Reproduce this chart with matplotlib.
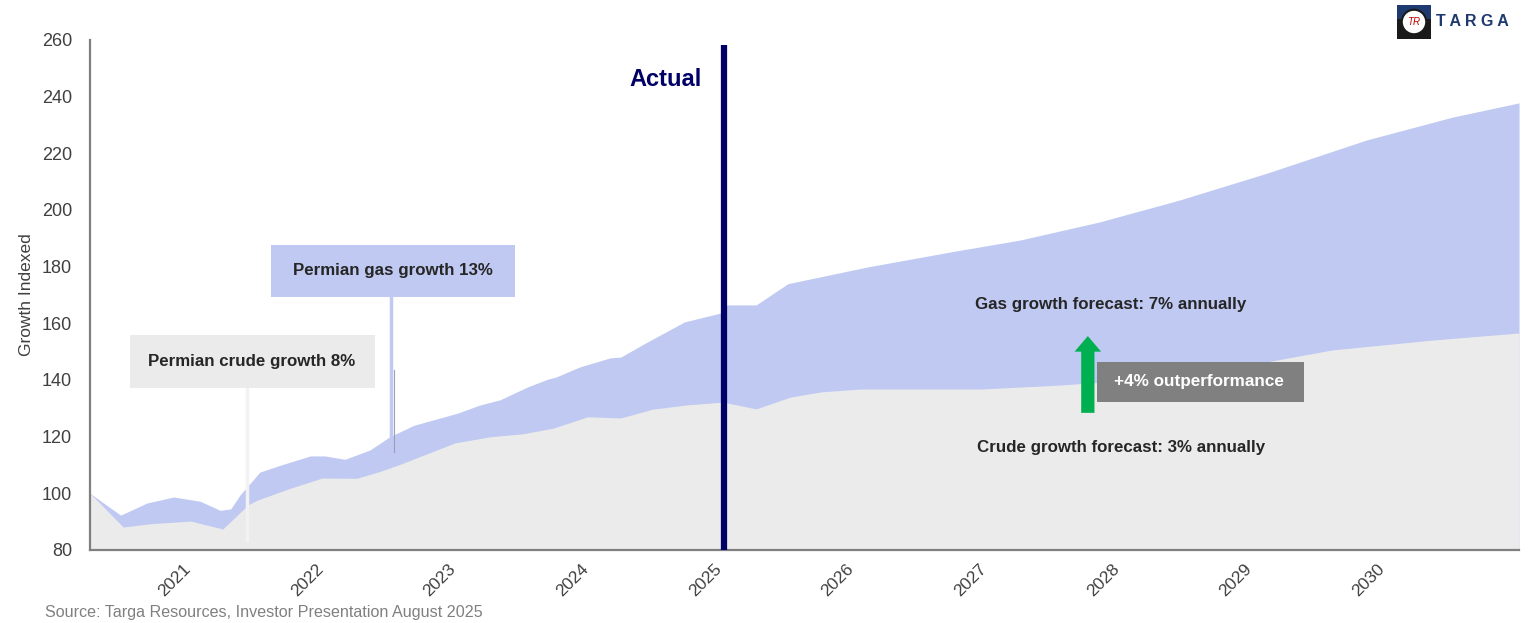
import matplotlib
matplotlib.use("Agg")
import matplotlib.pyplot as plt
from matplotlib.patches import Rectangle, FancyArrow, Circle

plt.rcParams['font.family'] = ['Liberation Sans', 'DejaVu Sans']

# ---- data (year fraction, growth index) ----
gas_years = [2020.22, 2020.45, 2020.53, 2020.65, 2020.85, 2021.05, 2021.20, 2021.28, 2021.35,
             2021.50, 2021.66, 2021.88, 2021.99, 2022.14, 2022.33, 2022.48, 2022.66, 2022.99,
             2023.16, 2023.31, 2023.52, 2023.67, 2023.73, 2023.91, 2024.14, 2024.22, 2024.42,
             2024.70, 2024.97, 2025.02, 2025.24, 2025.48, 2026.08, 2026.73, 2027.23, 2027.83,
             2028.43, 2029.09, 2029.84, 2030.49, 2030.99]
gas_values = [100, 92.3, 94, 96.6, 98.7, 97.2, 94, 94.5, 99.4,
              107.5, 110, 113.2, 113.2, 112, 115.3, 120, 124, 128.3,
              131.2, 133, 137.6, 140.3, 141, 144.6, 147.8, 148.1, 153.4,
              160.5, 163.6, 166.5, 166.5, 174, 179.9, 185.4, 189.4, 195.8,
              203.5, 213, 224.7, 232.8, 237.8]

crude_years = [2020.22, 2020.47, 2020.68, 2020.98, 2021.22, 2021.41, 2021.48, 2021.73, 2021.97,
               2022.23, 2022.41, 2022.56, 2022.97, 2023.24, 2023.48, 2023.71, 2023.97, 2024.22,
               2024.46, 2024.72, 2024.99, 2025.24, 2025.50, 2025.73, 2026.02, 2026.93, 2027.53,
               2027.83, 2029.09, 2029.58, 2030.34, 2030.99]
crude_values = [100, 88.1, 89.3, 90.2, 87.4, 95.9, 97.6, 101.8, 105.4,
                105.3, 107.8, 110.3, 117.8, 120, 121, 123, 127, 126.6,
                129.7, 131.2, 132.2, 129.8, 134, 135.8, 136.8, 136.8, 138.2,
                139.2, 146.4, 150.6, 154.1, 156.6]

year_ticks = [2021, 2022, 2023, 2024, 2025, 2026, 2027, 2028, 2029, 2030]
y_ticks = [80, 100, 120, 140, 160, 180, 200, 220, 240, 260]
actual_year = 2025

BLUE = '#c0c9f2'
GREY = '#ebebeb'
NAVY = '#000066'
TXT = '#262626'

fig = plt.figure(figsize=(15.29, 6.23), dpi=100)
ax = fig.add_axes([0.0589, 0.1172, 0.9346, 0.8186])

ax.fill_between(gas_years, 80, gas_values, color=BLUE, lw=0, zorder=1)
ax.fill_between(crude_years, 80, crude_values, color=GREY, lw=0, zorder=2)

ax.set_xlim(2020.22, 2030.99)
ax.set_ylim(80, 260)
ax.set_xticks(year_ticks)
ax.set_xticklabels([str(y) for y in year_ticks], rotation=45, ha='right',
                   fontsize=12.5, color='#404040')
ax.set_yticks(y_ticks)
ax.set_yticklabels([str(v) for v in y_ticks], fontsize=13, color='#404040')
ax.tick_params(axis='both', length=0)
ax.tick_params(axis='y', pad=13)
ax.tick_params(axis='x', pad=8)
for s in ['top', 'right']:
    ax.spines[s].set_visible(False)
for s in ['left', 'bottom']:
    ax.spines[s].set_color('#7f7f7f')
    ax.spines[s].set_linewidth(1.6)
    ax.spines[s].set_zorder(5)
ax.set_ylabel('Growth Indexed', fontsize=12.5, color='#404040', labelpad=5.5)

# Actual line
ax.plot([actual_year, actual_year], [80, 258.2], color=NAVY, lw=4.5, zorder=6,
        solid_capstyle='butt')
ax.text(2024.83, 245.9, 'Actual', color=NAVY, fontsize=17, fontweight='bold',
        ha='right', va='center', zorder=7)

# Permian gas box
ax.add_patch(Rectangle((2021.58, 169.3), 1.84, 18.3, color=BLUE, lw=0, zorder=4))
ax.text(2022.50, 178.5, 'Permian gas growth 13%', fontsize=12.2, fontweight='bold',
        color=TXT, ha='center', va='center', zorder=5)
ax.plot([2022.49, 2022.49], [169.3, 114.6], color=BLUE, lw=2.5, zorder=3)
ax.plot([2022.51, 2022.51], [143.5, 114.6], color='#9aa0b8', lw=0.8, zorder=3)

# Permian crude box
ax.add_patch(Rectangle((2020.52, 137.2), 1.85, 18.7, color=GREY, lw=0, zorder=4))
ax.text(2021.44, 146.4, 'Permian crude growth 8%', fontsize=12.2, fontweight='bold',
        color=TXT, ha='center', va='center', zorder=5)
ax.plot([2021.40, 2021.40], [137.2, 83.5], color='#f2f2f2', lw=2.5, zorder=3)

# forecast labels
ax.text(2027.91, 166.5, 'Gas growth forecast: 7% annually', fontsize=12.2,
        fontweight='bold', color=TXT, ha='center', va='center', zorder=5)
ax.text(2027.99, 116.0, 'Crude growth forecast: 3% annually', fontsize=12.2,
        fontweight='bold', color=TXT, ha='center', va='center', zorder=5)

# green arrow
ax.add_patch(FancyArrow(2027.74, 128.4, 0, 27.1, width=0.1, head_width=0.2,
                        head_length=5.5, length_includes_head=True,
                        color='#00b050', lw=0, zorder=5))

# outperformance box
ax.add_patch(Rectangle((2027.81, 132.2), 1.56, 14.2, color='#808080', lw=0, zorder=4))
ax.text(2028.58, 139.3, '+4% outperformance', fontsize=12.3, fontweight='bold',
        color='white', ha='center', va='center', zorder=5)

# source
fig.text(45/1529, 1 - 612/623, 'Source: Targa Resources, Investor Presentation August 2025',
         fontsize=11.6, color='#808080', ha='left', va='center')

# logo
lax = fig.add_axes([1397/1529, 1 - 39/623, 34/1529, 34/623])
lax.set_xlim(0, 1); lax.set_ylim(0, 1); lax.axis('off')
lax.add_patch(Rectangle((0, 0), 1, 1, color='#1a1a1a', lw=0))
lax.add_patch(Rectangle((0, 0.6), 1, 0.4, color='#1f3a6e', lw=0))
lax.add_patch(Circle((0.5, 0.5), 0.36, facecolor='white', edgecolor='#1a1a1a', lw=1.5))
lax.text(0.5, 0.5, 'TR', color='#c00000', fontsize=7, ha='center', va='center',
         fontstyle='italic')
fig.text(1436/1529, 1 - 21/623, 'T A R G A', fontsize=11.5, color='#1f3a6e',
         ha='left', va='center', fontweight='bold')

fig.savefig('out.png', dpi=100)
